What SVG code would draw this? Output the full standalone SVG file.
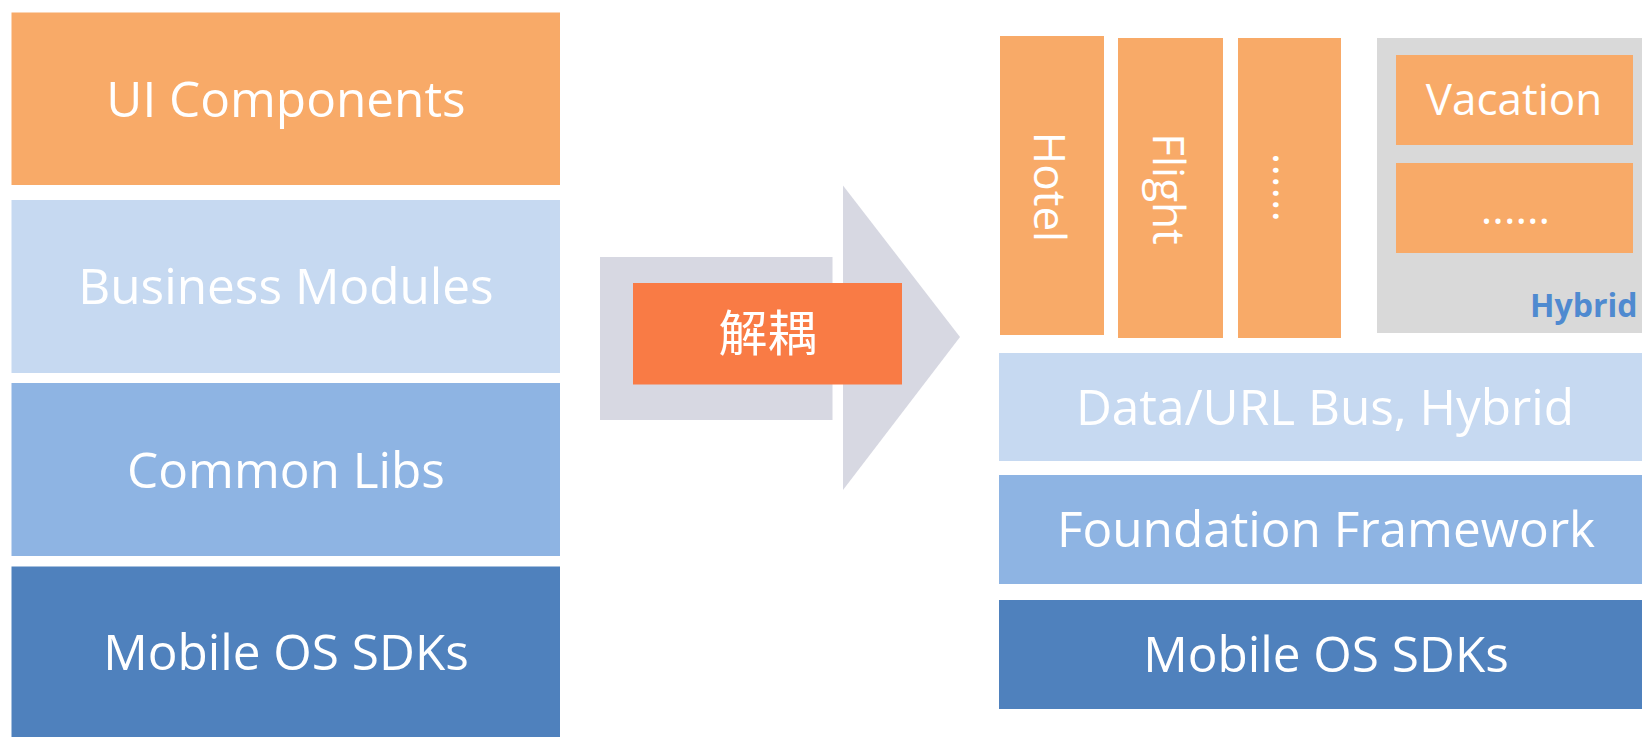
<svg xmlns="http://www.w3.org/2000/svg" width="1642" height="737" viewBox="0 0 1642 737">
<style>
text{font-family:"Open Sans","Noto Sans CJK SC",sans-serif;fill:#ffffff}
.big{font-size:49.5px;text-anchor:middle}
.mid{font-size:44px;text-anchor:middle}
.org{fill:#F8AA68}
.lb{fill:#C6D9F1}
.mb{fill:#8EB4E3}
.db{fill:#4F81BD}
.arrow{fill:#D7D8E2}
</style>
<rect width="1642" height="737" fill="#ffffff"/>
<g id="connectors">
<rect class="arrow" x="600" y="257" width="232.5" height="163"/>
<polygon class="arrow" points="843,185.5 960,337 843,490"/>
</g>
<g id="ui-components"><rect class="org" x="11.5" y="12.5" width="548.5" height="172.5"/><text class="big" x="286" y="117">UI Components</text></g>
<g id="business-modules"><rect class="lb" x="11.5" y="200" width="548.5" height="173"/><text class="big" x="286" y="304">Business Modules</text></g>
<g id="common-libs"><rect class="mb" x="11.5" y="383" width="548.5" height="173"/><text class="big" x="286" y="487.5">Common Libs</text></g>
<g id="mobile-os-left"><rect class="db" x="11.5" y="566.5" width="548.5" height="171"/><text class="big" x="286" y="670">Mobile OS SDKs</text></g>
<g id="decouple"><rect x="633" y="283" width="269" height="101.5" fill="#F97B45"/><text x="767.5" y="351" style="font-family:'Noto Sans CJK SC',sans-serif;font-size:49px;text-anchor:middle">解耦</text></g>
<g id="hotel"><rect class="org" x="1000" y="36" width="104" height="299"/><text class="mid" transform="translate(1034,187) rotate(90)">Hotel</text></g>
<g id="flight"><rect class="org" x="1118" y="38" width="105" height="300"/><text class="mid" transform="translate(1153,189) rotate(90)">Flight</text></g>
<g id="more-native"><rect class="org" x="1238" y="38" width="103" height="300"/><text class="mid" transform="translate(1272.5,187.5) rotate(90)">......</text></g>
<g id="hybrid">
<rect x="1377" y="38" width="270" height="295" fill="#D9D9D9"/>
<text x="1530" y="317" style="font-size:32px;font-weight:bold;fill:#4F8AD0">Hybrid</text>
</g>
<g id="vacation"><rect class="org" x="1396" y="55" width="237" height="90"/><text class="mid" x="1514" y="115">Vacation</text></g>
<g id="more-hybrid"><rect class="org" x="1396" y="163" width="237" height="90"/><text class="mid" x="1515.5" y="224">......</text></g>
<g id="data-url-bus"><rect class="lb" x="999" y="353" width="650" height="108"/><text class="big" x="1325" y="424.5">Data/URL Bus, Hybrid</text></g>
<g id="foundation"><rect class="mb" x="999" y="475" width="650" height="109"/><text class="big" x="1326" y="547">Foundation Framework</text></g>
<g id="mobile-os-right"><rect class="db" x="999" y="600" width="650" height="109"/><text class="big" x="1326" y="672">Mobile OS SDKs</text></g>
</svg>
